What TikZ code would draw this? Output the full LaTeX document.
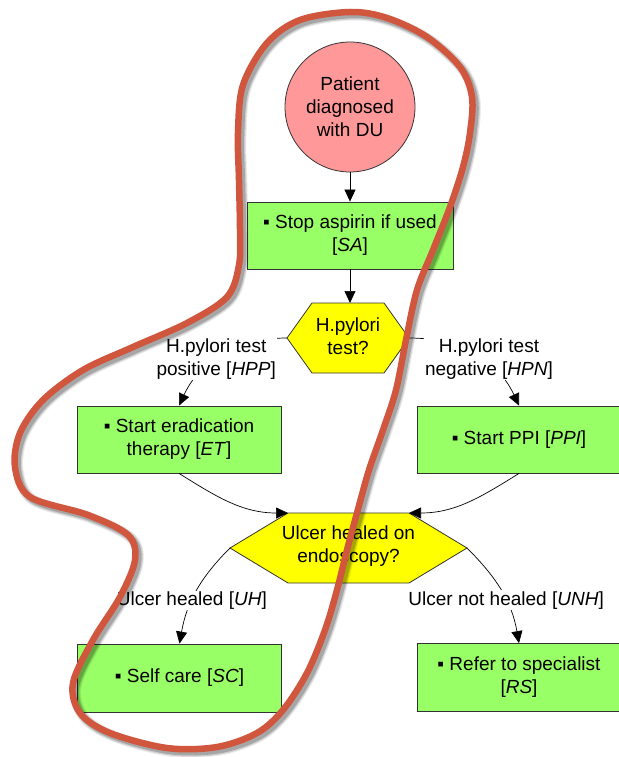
\documentclass[tikz,border=0pt]{standalone}
\usepackage{fontspec}
\setmainfont{Liberation Sans}
\usetikzlibrary{arrows.meta,calc}

\definecolor{boxgreen}{RGB}{153,255,102}
\definecolor{startpink}{RGB}{255,153,153}
\definecolor{decyellow}{RGB}{255,255,0}
\definecolor{loopred}{RGB}{208,86,62}
\newcommand\dgfont{\fontsize{19}{23}\selectfont}

% hand-drawn loop around the highlighted pathway
\newcommand\pathwayloop[1]{%
  \draw[#1] plot[smooth cycle, tension=0.55] coordinates {
    (350,-12) (387,-18) (427,-37) (460,-67) (472,-97) (470,-133)
    (463,-167) (450,-207) (433,-250) (417,-290) (406,-340) (396,-390)
    (383,-430) (369,-470) (357,-513) (347,-550) (337,-590) (325,-630)
    (307,-673) (283,-710) (257,-733) (217,-747) (167,-748) (110,-733)
    (80,-713) (73,-683) (93,-640) (120,-597) (135,-560) (128,-535)
    (88,-515) (30,-497) (15,-467) (20,-433) (43,-400) (83,-370)
    (133,-347) (187,-323) (227,-297) (239,-265) (240,-230) (239,-180)
    (238,-133) (243,-85) (267,-43) (300,-20)};}

\begin{document}
\begin{tikzpicture}[x=1pt,y=1pt,
  box/.style={draw=black!80, fill=boxgreen, line width=0.8pt,
    minimum width=204pt, minimum height=67pt, align=center,
    inner sep=2pt, font=\dgfont},
  startnode/.style={circle, draw=black!80, fill=startpink, line width=0.8pt,
    minimum size=130pt, inner sep=0pt, align=center, font=\dgfont},
  hexshape/.style={draw=black!80, fill=decyellow, line width=0.8pt},
  hextext/.style={align=center, inner sep=0pt, font=\dgfont},
  lbl/.style={fill=white, inner sep=1pt, align=center, font=\dgfont},
  arr/.style={-{Triangle[length=12pt,width=11pt]}, line width=0.7pt}]
\useasboundingbox (0,0) rectangle (618,-757);

% start node and first action
\node[startnode] (dx) at (350,-107) {Patient\\diagnosed\\with DU};
\node[box, minimum width=206pt] (sa) at (350,-235.5) {▪ Stop aspirin if used\\{}[\textit{SA}]};

% first decision
\coordinate (hpW)  at (287,-338);
\coordinate (hpNW) at (312,-303);
\coordinate (hpN)  at (350,-303);
\coordinate (hpNE) at (384,-303);
\coordinate (hpE)  at (409,-338);
\coordinate (hpSE) at (384,-373);
\coordinate (hpSW) at (312,-373);
\draw[hexshape] (hpW) -- (hpNW) -- (hpNE) -- (hpE) -- (hpSE) -- (hpSW) -- cycle;
\node[hextext] (hp) at (348,-336) {H.pylori\\test?};

% treatment boxes
\node[box] (et)  at (179,-439.5) {▪ Start eradication\\therapy [\textit{ET}]};
\node[box] (ppi) at (519,-439.5) {▪ Start PPI [\textit{PPI}]};

% second decision
\coordinate (uhW)  at (230,-548);
\coordinate (uhNW) at (288,-513);
\coordinate (uhNE) at (409,-513);
\coordinate (uhE)  at (467,-548);
\coordinate (uhSE) at (409,-583);
\coordinate (uhSW) at (288,-583);
\draw[hexshape] (uhW) -- (uhNW) -- (uhNE) -- (uhE) -- (uhSE) -- (uhSW) -- cycle;
\node[hextext] (uh) at (348.5,-546) {Ulcer healed on\\endoscopy?};

% outcomes
\node[box, minimum height=68pt] (sc) at (179.5,-678) {▪ Self care [\textit{SC}]};
\node[box, minimum height=68pt] (rs) at (519,-677.5) {▪ Refer to specialist\\{}[\textit{RS}]};

% connectors
\draw[arr] (dx.south) -- (sa.north);
\draw[arr] (sa.south) -- (hpN);
\draw[arr] (hpW) to[out=180,in=65]
  node[lbl, pos=0.5, xshift=-6pt, yshift=-4pt] {H.pylori test\\positive [\textit{HPP}]} (et.north);
\draw[arr] (hpE) to[out=0,in=115]
  node[lbl, pos=0.5, xshift=14pt, yshift=-4pt] {H.pylori test\\negative [\textit{HPN}]} (ppi.north);
\draw[arr] (et.south) to[out=-32,in=180] (uhNW);
\draw[arr] (ppi.south) to[out=212,in=0] (uhNE);
\draw[arr] (uhW) to[out=225,in=80]
  node[lbl, pos=0.6] {Ulcer healed [\textit{UH}]} (sc.north);
\draw[arr] (uhE) to[out=-45,in=100]
  node[lbl, pos=0.6] {Ulcer not healed [\textit{UNH}]} (rs.north);

% loop with a soft shadow
\begin{scope}[shift={(3,-3)}]
  \pathwayloop{black, line width=11pt, opacity=0.07, line join=round}
  \pathwayloop{black, line width=9pt, opacity=0.12, line join=round}
  \pathwayloop{black, line width=6.5pt, opacity=0.2, line join=round}
\end{scope}
\pathwayloop{loopred, line width=6.5pt, line join=round}
\end{tikzpicture}
\end{document}
